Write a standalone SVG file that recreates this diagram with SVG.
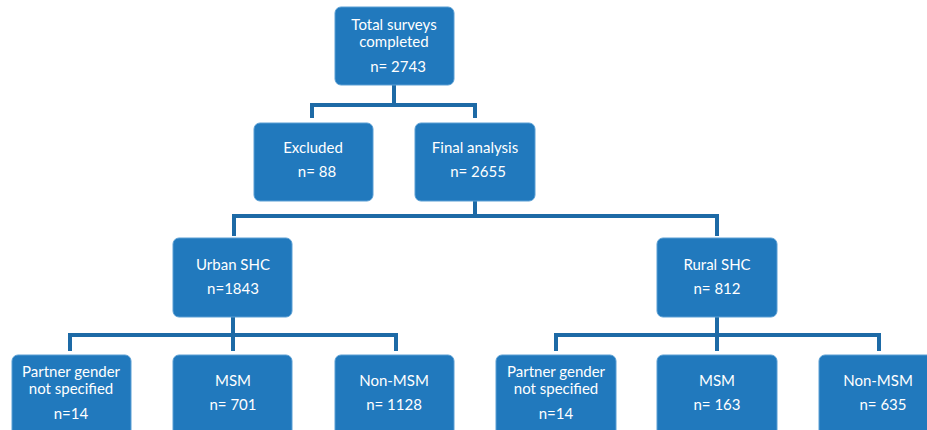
<svg xmlns="http://www.w3.org/2000/svg" width="927" height="430" viewBox="0 0 927 430">
<style>
.box{fill:#2179bd;stroke:#5a9fd4;stroke-width:1}
.t{font-family:Lato,"Open Sans","Liberation Sans",sans-serif;font-size:15px;fill:#ffffff;text-anchor:middle}
.c{fill:none;stroke:#1d6aa6;stroke-width:4}
</style>
<rect width="927" height="430" fill="#ffffff"/>
<g id="connectors">
<path class="c" d="M394 85V105M312 118V105H475V118"/>
<path class="c" d="M475 201V216M234 236V216H717V236"/>
<path class="c" d="M233 317V351M70 351V335H396V351"/>
<path class="c" d="M717 317V351M556 351V335H879V351"/>
</g>
<g id="total"><rect class="box" x="335" y="7" width="119" height="78" rx="6"/><text class="t" x="394" y="30">Total surveys</text><text class="t" x="394" y="47">completed</text><text class="t" x="398" y="72">n= 2743</text></g>
<g id="excluded"><rect class="box" x="254" y="123" width="119" height="78" rx="6"/><text class="t" x="313" y="153">Excluded</text><text class="t" x="317" y="177">n= 88</text></g>
<g id="final"><rect class="box" x="415" y="123" width="120" height="78" rx="6"/><text class="t" x="475" y="153">Final analysis</text><text class="t" x="478" y="177">n= 2655</text></g>
<g id="urban"><rect class="box" x="173" y="238" width="119" height="79" rx="6"/><text class="t" x="233" y="270">Urban SHC</text><text class="t" x="233" y="294">n=1843</text></g>
<g id="rural"><rect class="box" x="657" y="238" width="120" height="79" rx="6"/><text class="t" x="717" y="270">Rural SHC</text><text class="t" x="717" y="294">n= 812</text></g>
<g id="u-pgns"><rect class="box" x="12" y="355" width="119" height="85" rx="6"/><text class="t" x="71" y="377">Partner gender</text><text class="t" x="71" y="394">not specified</text><text class="t" x="71" y="419">n=14</text></g>
<g id="u-msm"><rect class="box" x="173" y="355" width="119" height="85" rx="6"/><text class="t" x="233" y="386">MSM</text><text class="t" x="233" y="410">n= 701</text></g>
<g id="u-nonmsm"><rect class="box" x="335" y="355" width="119" height="85" rx="6"/><text class="t" x="394" y="386">Non-MSM</text><text class="t" x="394" y="410">n= 1128</text></g>
<g id="r-pgns"><rect class="box" x="496" y="355" width="120" height="85" rx="6"/><text class="t" x="556" y="377">Partner gender</text><text class="t" x="556" y="394">not specified</text><text class="t" x="556" y="419">n=14</text></g>
<g id="r-msm"><rect class="box" x="657" y="355" width="120" height="85" rx="6"/><text class="t" x="717" y="386">MSM</text><text class="t" x="717" y="410">n= 163</text></g>
<g id="r-nonmsm"><rect class="box" x="819" y="355" width="120" height="85" rx="6"/><text class="t" x="878" y="386">Non-MSM</text><text class="t" x="883" y="410">n= 635</text></g>
</svg>
